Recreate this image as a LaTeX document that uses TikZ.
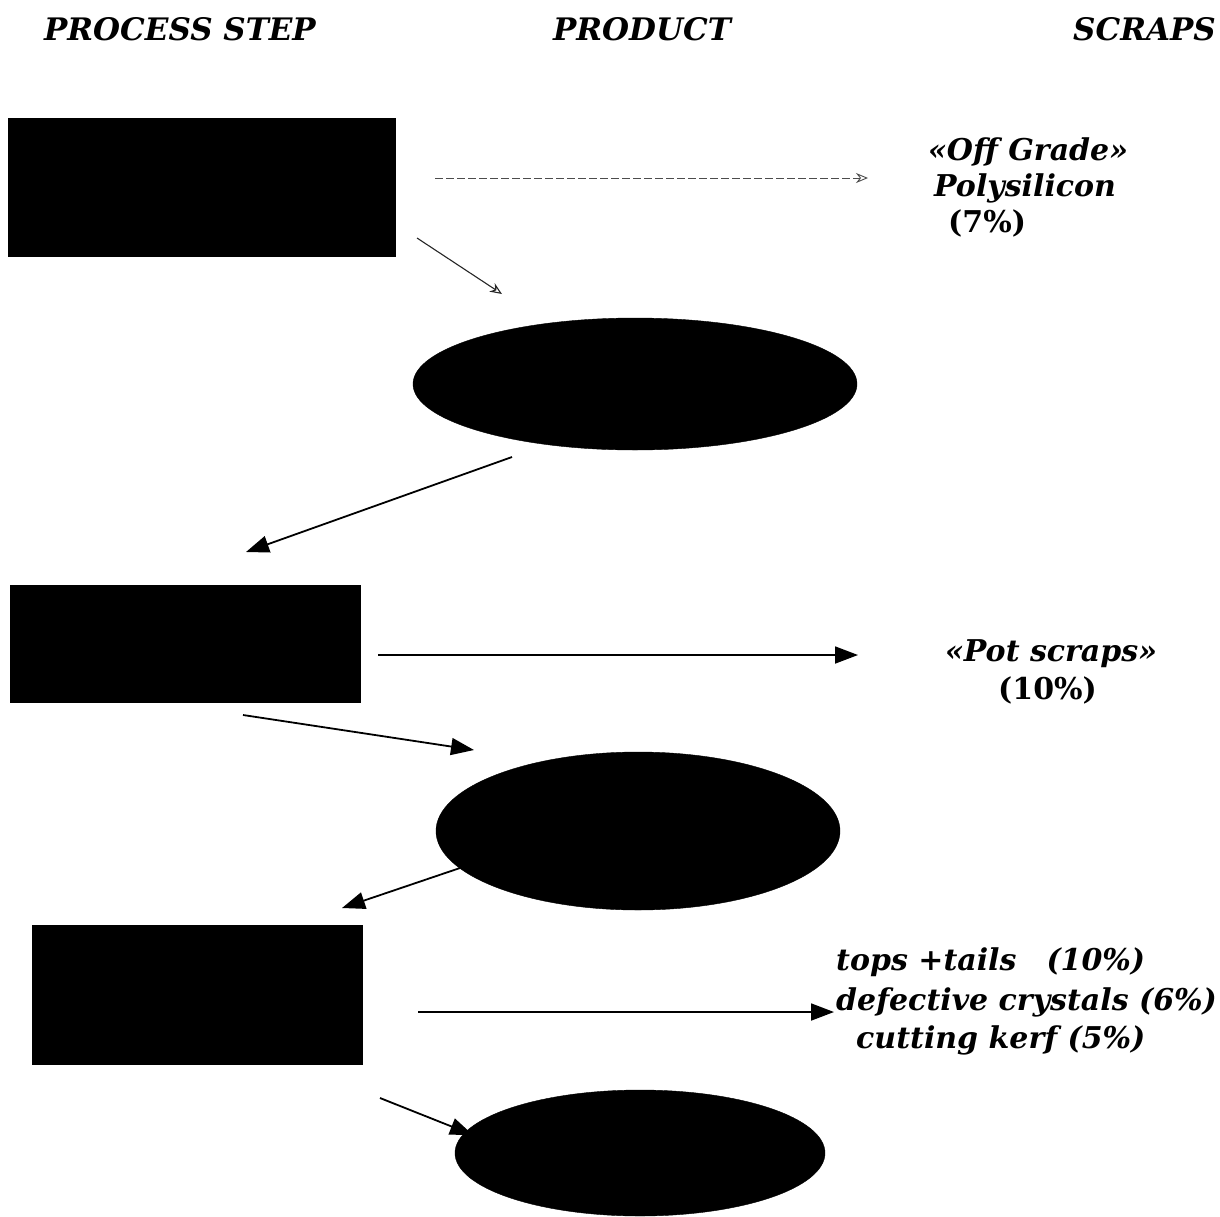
\documentclass[tikz,border=0pt]{standalone}
\usepackage{fontspec}
\setmainfont{DejaVu Serif}
\usetikzlibrary{shapes.geometric,arrows.meta}
\begin{document}
\begin{tikzpicture}[x=1pt,y=-1pt,
  hdr/.style={font=\fontsize{31}{36}\selectfont\bfseries\itshape, inner sep=0, anchor=base},
  scrap/.style={font=\fontsize{30}{36}\selectfont\bfseries\itshape, inner sep=0, anchor=base west},
  stepbox/.style={fill=black, draw=black, inner sep=0, anchor=north west},
  prod/.style={ellipse, fill=black, draw=black, inner sep=0},
  flow/.style={line width=1.8pt, -{Triangle[length=23pt,width=17pt]}},
  thinflow/.style={line width=0.9pt, gray!60!black, -{Stealth[length=12pt,width=10pt,open]}}
]
\useasboundingbox (0,0) rectangle (1220,1216);
% headers
\node[hdr] (h1) at (180,40) {PROCESS STEP};
\node[hdr] (h2) at (642,40) {PRODUCT};
\node[hdr, anchor=base east] (h3) at (1216,40) {SCRAPS};
% process steps
\node[stepbox, minimum width=387, minimum height=138] (b1) at (8,118) {};
\node[stepbox, minimum width=350, minimum height=117] (b2) at (10,585) {};
\node[stepbox, minimum width=330, minimum height=139] (b3) at (32,925) {};
% products
\node[prod, minimum width=444, minimum height=132] (e1) at (635,384) {};
\node[prod, minimum width=404, minimum height=158] (e2) at (638,831) {};
\node[prod, minimum width=370, minimum height=126] (e3) at (640,1153) {};
% scraps
\node[scrap] (s1a) at (928,160) {«Off Grade»};
\node[scrap] (s1b) at (934,196) {Polysilicon};
\node[scrap] (s1c) at (948,232) {\textup{(7\%)}};
\node[scrap] (s2a) at (945,661) {«Pot scraps»};
\node[scrap] (s2b) at (998,699) {\textup{(10\%)}};
\node[scrap] (s3a) at (836,970) {tops +tails\hspace{30pt}(10\%)};
\node[scrap] (s3b) at (836,1010) {defective crystals (6\%)};
\node[scrap] (s3c) at (856,1048) {cutting kerf (5\%)};
% arrow end points
\coordinate (a1s) at (435,178); \coordinate (a1e) at (868,178);
\coordinate (a2s) at (417,238); \coordinate (a2e) at (502,294);
\coordinate (a3s) at (512,457); \coordinate (a3e) at (246,552);
\coordinate (a4s) at (378,655); \coordinate (a4e) at (858,655);
\coordinate (a5s) at (243,715); \coordinate (a5e) at (474,750);
\coordinate (a6s) at (460,868); \coordinate (a6e) at (342,908);
\coordinate (a7s) at (418,1012); \coordinate (a7e) at (834,1012);
\coordinate (a8s) at (380,1098); \coordinate (a8e) at (473,1135);
% connectors
\draw[thinflow, dash pattern=on 8pt off 3pt] (a1s) -- (a1e);
\draw[thinflow, line width=1.1pt, gray!30!black] (a2s) -- (a2e);
\draw[flow] (a3s) -- (a3e);
\draw[flow] (a4s) -- (a4e);
\draw[flow] (a5s) -- (a5e);
\draw[flow] (a6s) -- (a6e);
\draw[flow] (a7s) -- (a7e);
\draw[flow] (a8s) -- (a8e);
\end{tikzpicture}
\end{document}
